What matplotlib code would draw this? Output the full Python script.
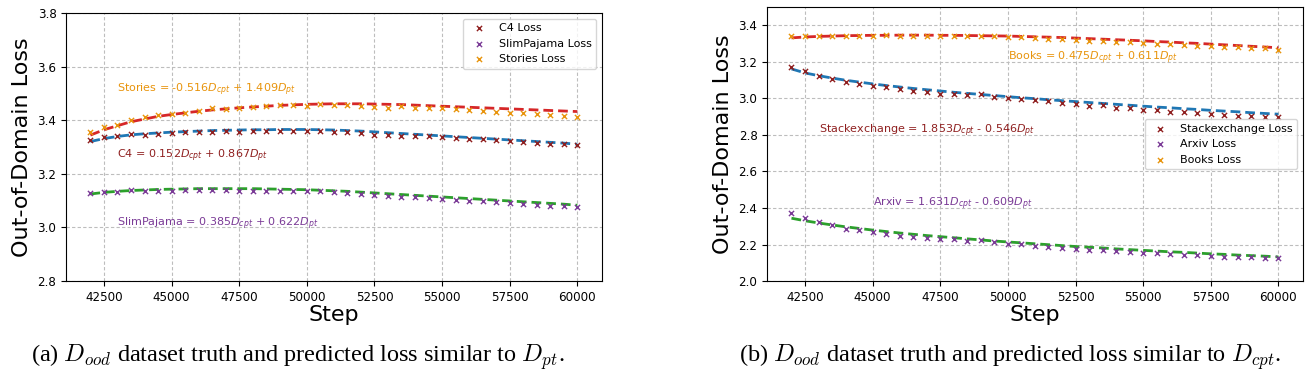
import numpy as np
import matplotlib
matplotlib.use('Agg')
import matplotlib.pyplot as plt

steps = np.arange(42000, 60001, 500)

# ---- (a) similar to D_pt ----
c4_loss = [3.326, 3.338, 3.342, 3.348, 3.347, 3.348, 3.354, 3.357, 3.358, 3.357,
           3.359, 3.358, 3.359, 3.359, 3.362, 3.360, 3.359, 3.359, 3.357, 3.355,
           3.352, 3.347, 3.345, 3.343, 3.342, 3.340, 3.337, 3.334, 3.329, 3.329,
           3.326, 3.322, 3.319, 3.317, 3.313, 3.311, 3.308]
c4_fit = [3.321, 3.332, 3.340, 3.346, 3.350, 3.353, 3.356, 3.358, 3.360, 3.362,
          3.363, 3.364, 3.365, 3.365, 3.366, 3.366, 3.366, 3.365, 3.364, 3.362,
          3.360, 3.357, 3.354, 3.351, 3.348, 3.345, 3.342, 3.339, 3.336, 3.333,
          3.330, 3.327, 3.324, 3.321, 3.318, 3.315, 3.311]
slim_loss = [3.130, 3.133, 3.133, 3.139, 3.136, 3.136, 3.137, 3.139, 3.139, 3.140,
             3.139, 3.136, 3.137, 3.136, 3.137, 3.136, 3.136, 3.135, 3.131, 3.129,
             3.125, 3.123, 3.119, 3.115, 3.113, 3.110, 3.106, 3.103, 3.099, 3.099,
             3.095, 3.091, 3.088, 3.085, 3.081, 3.080, 3.075]
slim_fit = [3.125, 3.131, 3.135, 3.138, 3.140, 3.142, 3.143, 3.144, 3.145, 3.145,
            3.145, 3.145, 3.145, 3.144, 3.143, 3.142, 3.141, 3.139, 3.137, 3.135,
            3.132, 3.129, 3.126, 3.123, 3.120, 3.117, 3.114, 3.111, 3.108, 3.105,
            3.102, 3.099, 3.096, 3.093, 3.090, 3.087, 3.083]
stories_loss = [3.355, 3.377, 3.384, 3.400, 3.411, 3.420, 3.424, 3.429, 3.435, 3.445,
                3.444, 3.448, 3.449, 3.454, 3.456, 3.456, 3.455, 3.460, 3.456, 3.456,
                3.455, 3.451, 3.448, 3.453, 3.446, 3.445, 3.445, 3.444, 3.439, 3.435,
                3.430, 3.428, 3.426, 3.423, 3.421, 3.418, 3.414]
stories_fit = [3.345, 3.365, 3.380, 3.395, 3.405, 3.415, 3.422, 3.428, 3.434, 3.439,
               3.443, 3.447, 3.450, 3.453, 3.456, 3.458, 3.460, 3.461, 3.462, 3.462,
               3.462, 3.461, 3.460, 3.459, 3.457, 3.455, 3.453, 3.451, 3.449, 3.447,
               3.445, 3.443, 3.441, 3.439, 3.437, 3.435, 3.433]

# ---- (b) similar to D_cpt ----
stack_loss = [3.170, 3.148, 3.122, 3.109, 3.089, 3.078, 3.067, 3.064, 3.053, 3.040,
              3.034, 3.023, 3.023, 3.020, 3.025, 3.007, 3.000, 2.996, 2.992, 2.985,
              2.974, 2.969, 2.961, 2.963, 2.948, 2.948, 2.936, 2.936, 2.928, 2.925,
              2.921, 2.914, 2.910, 2.906, 2.905, 2.901, 2.897]
stack_fit = [3.162, 3.140, 3.125, 3.112, 3.100, 3.090, 3.080, 3.071, 3.063, 3.055,
             3.048, 3.041, 3.034, 3.028, 3.022, 3.016, 3.010, 3.004, 2.999, 2.993,
             2.988, 2.983, 2.978, 2.973, 2.968, 2.963, 2.958, 2.953, 2.949, 2.944,
             2.940, 2.935, 2.931, 2.927, 2.922, 2.918, 2.914]
arxiv_loss = [2.374, 2.345, 2.323, 2.305, 2.287, 2.278, 2.267, 2.259, 2.247, 2.241,
              2.237, 2.232, 2.228, 2.221, 2.226, 2.212, 2.203, 2.203, 2.194, 2.186,
              2.181, 2.175, 2.171, 2.171, 2.162, 2.161, 2.155, 2.155, 2.148, 2.144,
              2.141, 2.137, 2.133, 2.132, 2.130, 2.126, 2.124]
arxiv_fit = [2.344, 2.330, 2.318, 2.307, 2.297, 2.288, 2.279, 2.271, 2.263, 2.256,
             2.249, 2.243, 2.237, 2.231, 2.225, 2.219, 2.214, 2.209, 2.204, 2.199,
             2.194, 2.189, 2.185, 2.181, 2.176, 2.172, 2.168, 2.164, 2.160, 2.157,
             2.153, 2.149, 2.146, 2.142, 2.139, 2.136, 2.132]
books_loss = [3.340, 3.343, 3.343, 3.345, 3.343, 3.341, 3.343, 3.347, 3.345, 3.343,
              3.343, 3.340, 3.343, 3.341, 3.343, 3.340, 3.336, 3.336, 3.331, 3.327,
              3.325, 3.320, 3.316, 3.314, 3.309, 3.307, 3.305, 3.300, 3.298, 3.294,
              3.290, 3.288, 3.283, 3.281, 3.278, 3.274, 3.268]
books_fit = [3.332, 3.337, 3.340, 3.342, 3.344, 3.345, 3.346, 3.346, 3.347, 3.347,
             3.347, 3.346, 3.346, 3.345, 3.344, 3.343, 3.342, 3.340, 3.338, 3.336,
             3.334, 3.331, 3.328, 3.325, 3.322, 3.319, 3.316, 3.312, 3.309, 3.305,
             3.302, 3.298, 3.294, 3.290, 3.286, 3.282, 3.278]

BROWN = '#8f1f1f'
PURPLE = '#7a3a96'
ORANGE = '#e8940c'

fig = plt.figure(figsize=(13.08, 3.80), dpi=100)
ax1 = fig.add_axes([0.0505, 0.2605, 0.4095, 0.7045])
ax2 = fig.add_axes([0.5865, 0.2605, 0.4095, 0.7205])


def draw(ax, fits, losses):
    # dashed fitted curves first, then the measured points on top
    for vals, col in fits:
        ax.plot(steps, vals, linestyle=(0, (3.5, 1.8)), color=col, linewidth=2)
    for vals, col, lab in losses:
        ax.scatter(steps, vals, marker='x', s=14, linewidths=1, color=col, label=lab, zorder=3)
    ax.grid(True, linestyle=(0, (3, 2)), color='#bdbdbd', linewidth=0.8)
    ax.set_xlabel('Step', fontsize=16, labelpad=1)
    ax.set_ylabel('Out-of-Domain Loss', fontsize=16)
    ax.tick_params(labelsize=8.6)
    ax.set_xticks(np.arange(42500, 60001, 2500))
    ax.yaxis.set_major_formatter(matplotlib.ticker.FormatStrFormatter('%.1f'))


draw(ax1,
     [(stories_fit, '#d62728'), (c4_fit, '#1f77b4'), (slim_fit, '#2ca02c')],
     [(c4_loss, BROWN, 'C4 Loss'), (slim_loss, PURPLE, 'SlimPajama Loss'),
      (stories_loss, ORANGE, 'Stories Loss')])
ax1.set_ylim(2.8, 3.8)
ax1.set_yticks(np.arange(2.8, 3.81, 0.2))
ax1.legend(loc='upper right', fontsize=8)
ax1.text(43000, 3.516, r'Stories = -0.516$D_{cpt}$ + 1.409$D_{pt}$', color=ORANGE, fontsize=8, va='center')
ax1.text(43000, 3.267, r'C4 = 0.152$D_{cpt}$ + 0.867$D_{pt}$', color=BROWN, fontsize=8, va='center')
ax1.text(43000, 3.015, r'SlimPajama = 0.385$D_{cpt}$ + 0.622$D_{pt}$', color=PURPLE, fontsize=8, va='center')

draw(ax2,
     [(books_fit, '#d62728'), (stack_fit, '#1f77b4'), (arxiv_fit, '#2ca02c')],
     [(stack_loss, BROWN, 'Stackexchange Loss'), (arxiv_loss, PURPLE, 'Arxiv Loss'),
      (books_loss, ORANGE, 'Books Loss')])
ax2.set_ylim(2.0, 3.5)
ax2.set_yticks(np.arange(2.0, 3.41, 0.2))
ax2.legend(loc='center right', fontsize=8)
ax2.text(50000, 3.221, r'Books = 0.475$D_{cpt}$ + 0.611$D_{pt}$', color=ORANGE, fontsize=8, va='center')
ax2.text(43000, 2.822, r'Stackexchange = 1.853$D_{cpt}$ - 0.546$D_{pt}$', color=BROWN, fontsize=8, va='center')
ax2.text(45000, 2.422, r'Arxiv = 1.631$D_{cpt}$ - 0.609$D_{pt}$', color=PURPLE, fontsize=8, va='center')

cap = dict(fontsize=17.5, family='Liberation Serif', ha='center', va='center', math_fontfamily='cm')
fig.text(0.228, 0.06, r'(a) $D_{ood}$ dataset truth and predicted loss similar to $D_{pt}$.', **cap)
fig.text(0.772, 0.06, r'(b) $D_{ood}$ dataset truth and predicted loss similar to $D_{cpt}$.', **cap)

fig.savefig('out.png', dpi=100)
